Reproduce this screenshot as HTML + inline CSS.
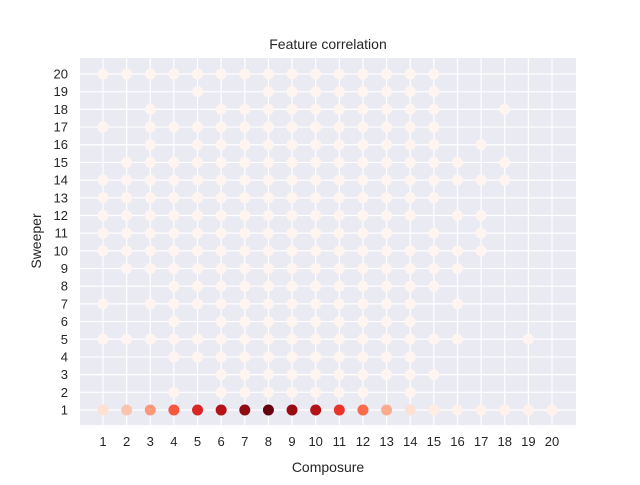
<!DOCTYPE html>
<html><head><meta charset="utf-8"><style>
body{margin:0;background:#fff;font-family:"Liberation Sans","DejaVu Sans",sans-serif}
</style></head><body>
<svg id="chart" width="640" height="480" xmlns="http://www.w3.org/2000/svg">
<rect x="80" y="58" width="496" height="367" fill="#eaeaf2"/>
<g id="grid"></g><g id="ticks"></g><g id="marks"></g>
<text x="328" y="49" text-anchor="middle" font-size="14" fill="#262626">Feature correlation</text>
<text x="328" y="472" text-anchor="middle" font-size="14" fill="#262626">Composure</text>
<text x="41" y="241" text-anchor="middle" font-size="14" fill="#262626" transform="rotate(-90 41 241)">Sweeper</text>
</svg>
<script>
const xTicks=[1,2,3,4,5,6,7,8,9,10,11,12,13,14,15,16,17,18,19,20];
const yTicks=[1,2,3,4,5,6,7,8,9,10,11,12,13,14,15,16,17,18,19,20];
// rows: y value -> list of x values present (y=1 handled separately)
const rowY=[20,19,18,17,16,15,14,13,12,11,10,9,8,7,6,5,4,3,2];
const rowX=[
[1,2,3,4,5,6,7,8,9,10,11,12,13,14,15],
[5,8,9,10,11,12,13,14,15],
[3,6,7,8,9,10,11,12,13,14,15,18],
[1,3,4,5,6,7,8,9,10,11,12,13,14,15],
[3,5,6,7,8,9,10,11,12,13,14,15,17],
[2,3,4,5,6,7,8,9,10,11,12,13,14,15,16,18],
[1,2,3,4,5,6,7,8,9,10,11,12,13,14,15,16,17,18],
[1,2,3,4,5,6,7,8,9,10,11,12,13,14,15],
[1,2,3,4,5,6,7,8,9,10,11,12,13,14,16,17],
[1,2,3,4,5,6,7,8,9,10,11,12,13,15,17],
[1,2,3,4,5,6,7,8,9,10,11,12,13,14,15,16,17],
[2,3,4,5,6,7,8,9,10,11,12,13,14,15,16],
[4,5,6,7,8,9,10,11,12,13,14,15],
[1,3,4,5,6,7,8,9,10,11,12,13,14,16],
[4,6,7,8,9,10,11,12,13,14],
[1,2,3,4,5,6,7,8,9,10,11,12,13,14,15,16,19],
[4,5,6,7,8,9,10,11,12,13,14],
[6,7,8,9,10,11,12,13,14,15],
[4,6,7,8,9,10,11,12,14]
];
const bottomX=[1,2,3,4,5,6,7,8,9,10,11,12,13,14,15,16,17,18,19,20];
const bottomVal=[0.12,0.22,0.36,0.55,0.7,0.82,0.92,1,0.9,0.83,0.65,0.5,0.3,0.12,0.05,0.02,0.02,0.02,0.02,0.02];
const stops=["#fff5f0","#fee0d2","#fcbba1","#fc9272","#fb6a4a","#ef3b2c","#cb181d","#a50f15","#67000d"];
function hx(c){return [1,3,5].map(i=>parseInt(c.substr(i,2),16));}
function reds(v){v=Math.max(0,Math.min(1,v));const p=v*8,i=Math.min(7,Math.floor(p)),t=p-i;const a=hx(stops[i]),b=hx(stops[i+1]);return "rgb("+a.map((q,k)=>Math.round(q+(b[k]-q)*t)).join(",")+")";}
const X=v=>103+(v-1)*(552-103)/19;
const Y=v=>410-(v-1)*(410-74)/19;
const NS="http://www.w3.org/2000/svg";
const grid=document.getElementById('grid'),ticks=document.getElementById('ticks'),marks=document.getElementById('marks');
function mk(t,a,p){const e=document.createElementNS(NS,t);for(const k in a)e.setAttribute(k,a[k]);p.appendChild(e);return e;}
xTicks.forEach(v=>{const l=mk('line',{x1:X(v),x2:X(v),y1:58,y2:425,stroke:'#fff','stroke-width':1.2},grid);


const t=mk('text',{x:X(v),y:446,'text-anchor':'middle','font-size':13,fill:'#262626'},ticks);t.textContent=v;

});
yTicks.forEach(v=>{const l=mk('line',{x1:80,x2:576,y1:Y(v),y2:Y(v),stroke:'#fff','stroke-width':1.2},grid);


const t=mk('text',{x:68,y:Y(v)+4.5,'text-anchor':'end','font-size':13,fill:'#262626'},ticks);t.textContent=v;

});
rowY.forEach((y,i)=>rowX[i].forEach(x=>{const c=mk('circle',{cx:X(x),cy:Y(y),r:5.5,fill:reds(0)},marks);

}));
bottomX.forEach((x,i)=>{const c=mk('circle',{cx:X(x),cy:Y(1),r:5.5,fill:reds(bottomVal[i])},marks);

});
</script>
</body></html>
